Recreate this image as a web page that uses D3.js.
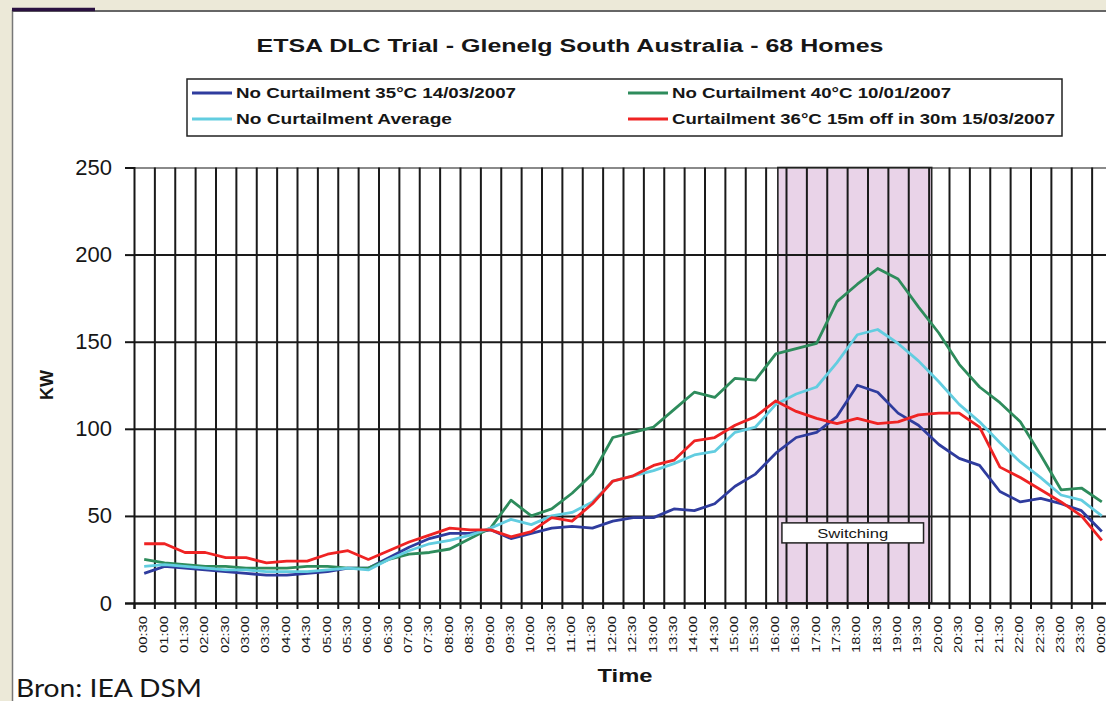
<!doctype html>
<html>
<head>
<meta charset="utf-8">
<style>
  body { margin: 0; background: #ece9d8; }
  svg text { font-family: "Liberation Sans", Arial, sans-serif; fill: #161616; }
  .axis path, .axis line { stroke: #161616; stroke-width: 2; }
  .grid line { stroke: #1a1a1a; stroke-width: 2; }
  .grid path { display: none; }
</style>
<script src="https://d3js.org/d3.v7.min.js"></script>
</head>
<body>
<script>

// half-hour slots of the day
var times = ["00:30","01:00","01:30","02:00","02:30","03:00","03:30","04:00","04:30","05:00",
             "05:30","06:00","06:30","07:00","07:30","08:00","08:30","09:00","09:30","10:00",
             "10:30","11:00","11:30","12:00","12:30","13:00","13:30","14:00","14:30","15:00",
             "15:30","16:00","16:30","17:00","17:30","18:00","18:30","19:00","19:30","20:00",
             "20:30","21:00","21:30","22:00","22:30","23:00","23:30","00:00"];

var noCurt35 = [17,21,20,19,18,17,16,16,17,18,20,20,26,32,37,40,40,42,37,40,43,44,43,47,
                49,49,54,53,57,67,74,86,95,98,107,125,121,109,102,91,83,79,64,58,60,57,53,41];
var noCurt40 = [25,23,22,21,21,20,20,20,21,21,20,20,25,28,29,31,37,43,59,50,54,63,74,95,
                98,101,111,121,118,129,128,143,146,149,173,183,192,186,170,155,137,124,115,104,85,65,66,58];
var noCurtAvg = [21,22,21,20,19,19,18,18,18,19,20,19,25,30,34,36,39,43,48,45,50,52,58,70,
                 73,76,80,85,87,98,101,114,120,124,138,154,157,149,139,127,114,104,92,81,72,62,59,50];
var curt36 = [34,34,29,29,26,26,23,24,24,28,30,25,30,35,39,43,42,42,38,41,49,47,57,70,
              73,79,82,93,95,102,107,116,110,106,103,106,103,104,108,109,109,101,78,72,65,58,50,36];

var seriesNames = ["No Curtailment 35°C 14/03/2007", "No Curtailment 40°C 10/01/2007",
                   "No Curtailment Average", "Curtailment 36°C 15m off in 30m 15/03/2007"];
var seriesColors = ["#2f3c9e", "#2e8c5c", "#62cde0", "#ef2323"];

var yTicks = [0, 50, 100, 150, 200, 250];

// switching period, in half-hour slot units, and its label box
var switchSpan = [31.6, 39.15];
var switchLabel = "Switching";
var switchBoxSpan = [31.8, 38.75];
var switchBoxKW = [46, 34.5];

var width = 1106, height = 701;
var plotLeft = 134, plotRight = 1112, plotTop = 167.5, plotBottom = 603;

var svg = d3.select("body").append("svg")
    .attr("width", width)
    .attr("height", height)
    .style("display", "block");

// slide background and white panel
svg.append("rect").attr("width", width).attr("height", height).attr("fill", "#ece9d8");
svg.append("rect").attr("x", 12).attr("y", 10).attr("width", width - 12).attr("height", height - 10).attr("fill", "#fff");
svg.append("line").attr("x1", 12.5).attr("x2", 12.5).attr("y1", 10).attr("y2", height)
    .attr("stroke", "#777").attr("stroke-width", 1.5);
svg.append("line").attr("x1", 12).attr("x2", width).attr("y1", 11).attr("y2", 11)
    .attr("stroke", "#666").attr("stroke-width", 2);
svg.append("line").attr("x1", 12).attr("x2", 95).attr("y1", 9.5).attr("y2", 9.5)
    .attr("stroke", "#2a1140").attr("stroke-width", 3.5);

var x = d3.scaleBand().domain(times).range([plotLeft, plotRight]);
var xi = d3.scaleLinear().domain([0, times.length]).range([plotLeft, plotRight]);
var y = d3.scaleLinear().domain([0, 250]).range([plotBottom, plotTop]);

// switching period shading
svg.append("rect")
    .attr("x", xi(switchSpan[0]))
    .attr("y", y(250))
    .attr("width", xi(switchSpan[1]) - xi(switchSpan[0]))
    .attr("height", y(0) - y(250))
    .attr("fill", "#e9d3e8");

// horizontal grid
var yGrid = svg.append("g").attr("class", "grid")
    .attr("transform", "translate(" + plotLeft + ",0)")
    .call(d3.axisLeft(y).tickValues(yTicks).tickSize(-(plotRight - plotLeft)).tickFormat(""));
yGrid.selectAll(".tick").filter(function (d) { return d === 250; })
    .select("line").style("stroke", "#8a8a8a");

// vertical grid between half-hour slots
svg.append("g").attr("class", "grid")
    .attr("transform", "translate(0," + plotBottom + ")")
    .call(d3.axisBottom(xi).tickValues(d3.range(1, times.length + 1)).tickSize(-(plotBottom - plotTop)).tickFormat(""));

// switching period outline
svg.append("rect")
    .attr("x", xi(switchSpan[0]))
    .attr("y", y(250))
    .attr("width", xi(switchSpan[1]) - xi(switchSpan[0]))
    .attr("height", y(0) - y(250))
    .attr("fill", "none")
    .attr("stroke", "#222")
    .attr("stroke-width", 1.6);

// y axis
var yAxis = svg.append("g").attr("class", "axis")
    .attr("transform", "translate(" + plotLeft + ",0)")
    .call(d3.axisLeft(y).tickValues(yTicks).tickSize(9).tickPadding(13));
yAxis.selectAll("text").style("font-size", "22px").attr("fill", "#222");

// x axis tick marks
svg.append("g").attr("class", "axis")
    .attr("transform", "translate(0," + plotBottom + ")")
    .call(d3.axisBottom(xi).tickValues(d3.range(0, times.length + 1)).tickSize(6).tickFormat(""));

// x axis labels
var xAxis = svg.append("g")
    .attr("transform", "translate(0," + plotBottom + ")")
    .call(d3.axisBottom(x).tickSize(0));
xAxis.select(".domain").remove();
xAxis.selectAll("text")
    .attr("transform", "rotate(-90)")
    .attr("x", -13)
    .attr("y", -1)
    .attr("dy", "0.36em")
    .attr("textLength", 37)
    .attr("lengthAdjust", "spacingAndGlyphs")
    .style("text-anchor", "end")
    .style("font-size", "11px")
    .attr("fill", "#222");

// series
var series = [noCurt35, noCurt40, noCurtAvg, curt36];
var line = d3.line()
    .x(function (d, i) { return x(times[i]) + x.bandwidth() / 2; })
    .y(function (d) { return y(d); });

svg.append("g").selectAll("path")
    .data(series)
    .enter()
    .append("path")
    .attr("d", line)
    .attr("fill", "none")
    .attr("stroke", function (d, i) { return seriesColors[i]; })
    .attr("stroke-width", 2.8)
    .attr("stroke-linejoin", "round");

// switching label
svg.append("rect")
    .attr("x", xi(switchBoxSpan[0]))
    .attr("y", y(switchBoxKW[0]))
    .attr("width", xi(switchBoxSpan[1]) - xi(switchBoxSpan[0]))
    .attr("height", y(switchBoxKW[1]) - y(switchBoxKW[0]))
    .attr("fill", "#fff")
    .attr("stroke", "#222")
    .attr("stroke-width", 1.5);
svg.append("text")
    .attr("x", (xi(switchBoxSpan[0]) + xi(switchBoxSpan[1])) / 2)
    .attr("y", (y(switchBoxKW[0]) + y(switchBoxKW[1])) / 2)
    .attr("dy", "0.36em")
    .attr("text-anchor", "middle")
    .attr("textLength", 71)
    .attr("lengthAdjust", "spacingAndGlyphs")
    .style("font-size", "13px")
    .text(switchLabel);

// title
svg.append("text")
    .attr("x", 570).attr("y", 52)
    .attr("text-anchor", "middle")
    .attr("textLength", 627)
    .attr("lengthAdjust", "spacingAndGlyphs")
    .style("font-size", "17.5px").style("font-weight", "bold")
    .text("ETSA DLC Trial - Glenelg South Australia - 68 Homes");

// legend
svg.append("rect")
    .attr("x", 187).attr("y", 79).attr("width", 875).attr("height", 57)
    .attr("fill", "#fff").attr("stroke", "#222").attr("stroke-width", 1.5);

var legendPos = [[192, 93], [628, 93], [192, 119], [628, 119]];
var legendLen = [280, 279, 216, 383];
var legend = svg.append("g").selectAll("g")
    .data(seriesNames)
    .enter()
    .append("g")
    .attr("transform", function (d, i) { return "translate(" + legendPos[i][0] + "," + legendPos[i][1] + ")"; });
legend.append("line")
    .attr("x1", 0).attr("x2", 40)
    .attr("stroke", function (d, i) { return seriesColors[i]; })
    .attr("stroke-width", 2.8);
legend.append("text")
    .attr("x", 44)
    .attr("dy", "0.36em")
    .attr("textLength", function (d, i) { return legendLen[i]; })
    .attr("lengthAdjust", "spacingAndGlyphs")
    .style("font-size", "14px").style("font-weight", "bold")
    .text(function (d) { return d; });

// axis titles
svg.append("text")
    .attr("transform", "translate(53,385) rotate(-90)")
    .attr("text-anchor", "middle")
    .attr("textLength", 30)
    .attr("lengthAdjust", "spacingAndGlyphs")
    .style("font-size", "19px").style("font-weight", "bold")
    .text("KW");

svg.append("text")
    .attr("x", 625).attr("y", 682)
    .attr("text-anchor", "middle")
    .attr("textLength", 55)
    .attr("lengthAdjust", "spacingAndGlyphs")
    .style("font-size", "18px").style("font-weight", "bold")
    .text("Time");

// source note
svg.append("text")
    .attr("x", 16).attr("y", 697)
    .attr("textLength", 186)
    .attr("lengthAdjust", "spacingAndGlyphs")
    .style("font-family", "Lato, 'Open Sans', sans-serif")
    .style("font-size", "25px")
    .attr("fill", "#000")
    .text("Bron: IEA DSM");

</script>
</body>
</html>
